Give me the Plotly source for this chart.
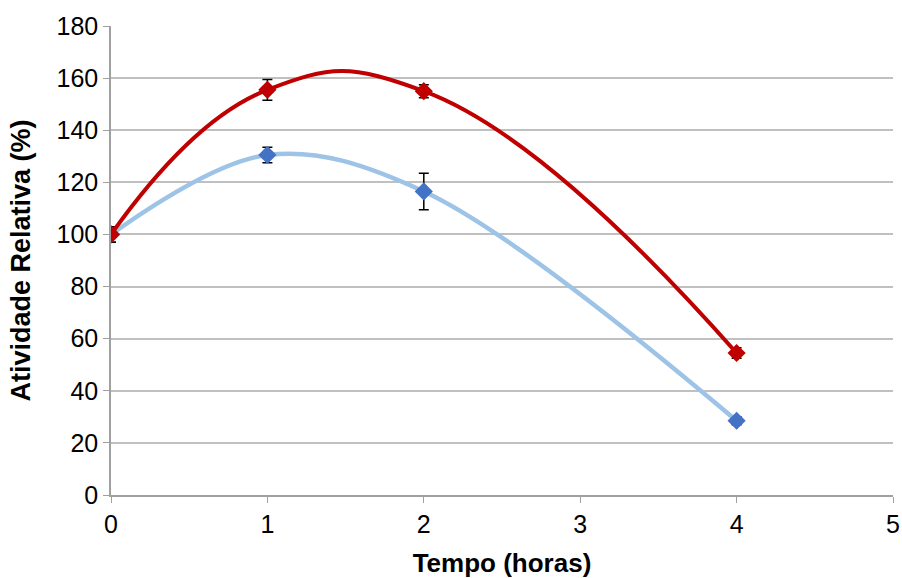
import plotly.graph_objects as go

# Tempo de incubação (horas) e atividade relativa (%)
tempo = [0, 1, 2, 4]
serie_azul = [100, 130.5, 116.5, 28.5]
erro_azul = [3, 3, 7, 1.5]
serie_vermelha = [100, 155.5, 155, 54.5]
erro_vermelha = [3, 4, 2.5, 2]

x_ticks = [0, 1, 2, 3, 4, 5]
y_ticks = [0, 20, 40, 60, 80, 100, 120, 140, 160, 180]

fig = go.Figure()

fig.add_trace(go.Scatter(
    x=tempo, y=serie_azul,
    mode="lines+markers",
    line=dict(color="#9DC3E6", width=4.5, shape="spline", smoothing=1.0),
    marker=dict(symbol="diamond", size=14, color="#4472C4"),
    error_y=dict(type="data", array=erro_azul, color="black", thickness=1.5, width=5),
    showlegend=False,
))

fig.add_trace(go.Scatter(
    x=tempo, y=serie_vermelha,
    mode="lines+markers",
    line=dict(color="#C00000", width=4, shape="spline", smoothing=1.3),
    marker=dict(symbol="diamond", size=14, color="#C00000"),
    error_y=dict(type="data", array=erro_vermelha, color="black", thickness=1.5, width=5),
    showlegend=False,
))

family = "Liberation Sans, Arial, sans-serif"
tick_font = dict(family=family, size=25, color="black")

fig.update_layout(
    width=902, height=578,
    margin=dict(l=111, r=9, t=26, b=83),
    paper_bgcolor="white",
    plot_bgcolor="white",
    font=tick_font,
    xaxis=dict(
        range=[0, 5], tickvals=x_ticks,
        showgrid=False, zeroline=False,
        showline=True, linecolor="#A0A0A0", linewidth=1.5,
        ticks="outside", ticklen=6, tickcolor="#A0A0A0",
        tickfont=tick_font, ticklabeloverflow="allow", automargin=False,
        title=dict(text="<b>Tempo (horas)</b>",
                   font=dict(family=family, size=26, color="black"), standoff=18),
    ),
    yaxis=dict(
        range=[0, 180], tickvals=y_ticks,
        showgrid=True, gridcolor="#C0C0C0", gridwidth=1.5,
        zeroline=False,
        showline=True, linecolor="#A0A0A0", linewidth=1.5,
        ticks="outside", ticklen=6, tickcolor="#A0A0A0",
        tickfont=tick_font, automargin=False,
        title=dict(text="<b>Atividade Relativa (%)</b>",
                   font=dict(family=family, size=27, color="black"), standoff=18),
    ),
)

fig.write_html("out.html")
